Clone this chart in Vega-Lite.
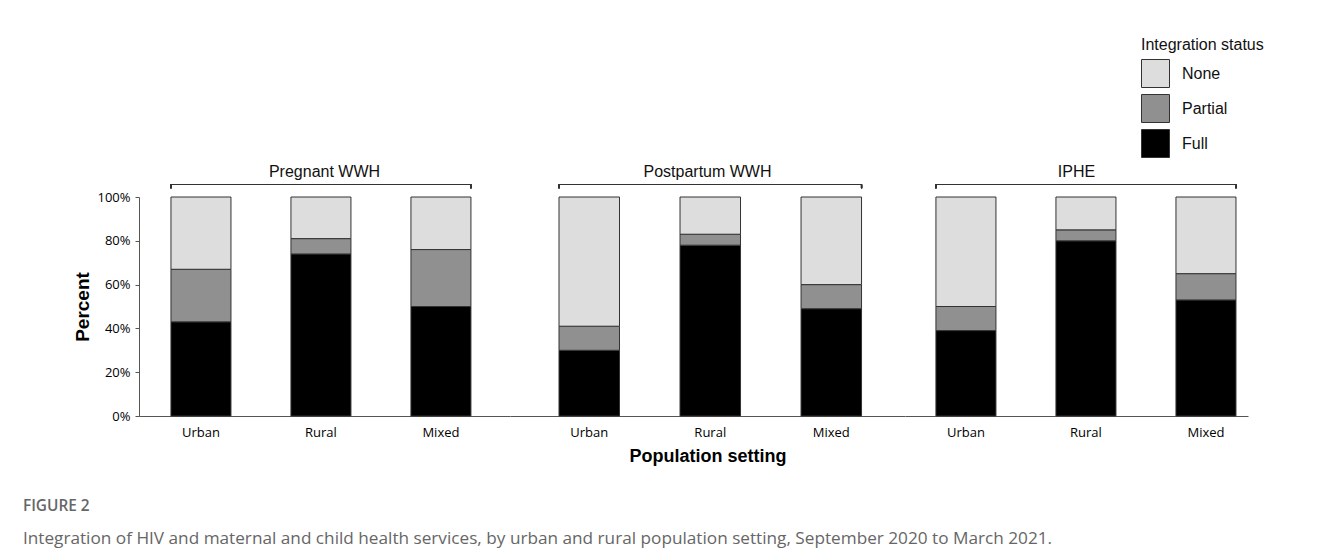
{
  "$schema": "https://vega.github.io/schema/vega-lite/v6.json",
  "padding": {"left": 22, "top": 37, "right": 5, "bottom": 5},
  "data": {"values": [
    {"group": "Pregnant WWH", "setting": "Urban", "status": "Full", "pct": 43},
    {"group": "Pregnant WWH", "setting": "Urban", "status": "Partial", "pct": 24},
    {"group": "Pregnant WWH", "setting": "Urban", "status": "None", "pct": 33},
    {"group": "Pregnant WWH", "setting": "Rural", "status": "Full", "pct": 74},
    {"group": "Pregnant WWH", "setting": "Rural", "status": "Partial", "pct": 7},
    {"group": "Pregnant WWH", "setting": "Rural", "status": "None", "pct": 19},
    {"group": "Pregnant WWH", "setting": "Mixed", "status": "Full", "pct": 50},
    {"group": "Pregnant WWH", "setting": "Mixed", "status": "Partial", "pct": 26},
    {"group": "Pregnant WWH", "setting": "Mixed", "status": "None", "pct": 24},
    {"group": "Postpartum WWH", "setting": "Urban", "status": "Full", "pct": 30},
    {"group": "Postpartum WWH", "setting": "Urban", "status": "Partial", "pct": 11},
    {"group": "Postpartum WWH", "setting": "Urban", "status": "None", "pct": 59},
    {"group": "Postpartum WWH", "setting": "Rural", "status": "Full", "pct": 78},
    {"group": "Postpartum WWH", "setting": "Rural", "status": "Partial", "pct": 5},
    {"group": "Postpartum WWH", "setting": "Rural", "status": "None", "pct": 17},
    {"group": "Postpartum WWH", "setting": "Mixed", "status": "Full", "pct": 49},
    {"group": "Postpartum WWH", "setting": "Mixed", "status": "Partial", "pct": 11},
    {"group": "Postpartum WWH", "setting": "Mixed", "status": "None", "pct": 40},
    {"group": "IPHE", "setting": "Urban", "status": "Full", "pct": 39},
    {"group": "IPHE", "setting": "Urban", "status": "Partial", "pct": 11},
    {"group": "IPHE", "setting": "Urban", "status": "None", "pct": 50},
    {"group": "IPHE", "setting": "Rural", "status": "Full", "pct": 80},
    {"group": "IPHE", "setting": "Rural", "status": "Partial", "pct": 5},
    {"group": "IPHE", "setting": "Rural", "status": "None", "pct": 15},
    {"group": "IPHE", "setting": "Mixed", "status": "Full", "pct": 53},
    {"group": "IPHE", "setting": "Mixed", "status": "Partial", "pct": 12},
    {"group": "IPHE", "setting": "Mixed", "status": "None", "pct": 35}
  ]},
  "transform": [{"calculate": "indexof(['Full', 'Partial', 'None'], datum.status)", "as": "stackOrder"}],
  "title": {
    "text": "FIGURE 2",
    "subtitle": "Integration of HIV and maternal and child health services, by urban and rural population setting, September 2020 to March 2021.",
    "orient": "bottom",
    "anchor": "start",
    "dx": -51,
    "offset": 34,
    "font": "Open Sans",
    "fontSize": 15.4,
    "fontWeight": 600,
    "color": "#666",
    "subtitleFont": "Open Sans",
    "subtitleFontSize": 17.2,
    "subtitleColor": "#666",
    "subtitlePadding": 16
  },
  "spacing": 0,
  "hconcat": [
    {
      "width": 371,
      "height": 219,
      "title": {"text": "Pregnant WWH"},
      "transform": [{"filter": "datum.group === 'Pregnant WWH'"}],
      "layer": [
        {
          "mark": {"type": "bar", "stroke": "#333", "strokeWidth": 1},
          "encoding": {
            "x": {"field": "setting", "type": "nominal", "sort": ["Urban", "Rural", "Mixed"],
                  "scale": {"paddingInner": 0.5, "paddingOuter": 0.296, "align": 0.45},
                  "axis": {"title": null}},
            "y": {"field": "pct", "type": "quantitative", "stack": "zero",
                  "scale": {"domain": [0, 100], "nice": false},
                  "axis": {"title": "Percent", "values": [0, 20, 40, 60, 80, 100], "labelExpr": "datum.value + '%'"}},
            "order": {"field": "stackOrder", "type": "quantitative", "sort": "ascending"},
            "color": {"field": "status", "type": "nominal", "sort": ["None", "Partial", "Full"],
                      "scale": {"domain": ["None", "Partial", "Full"], "range": ["#dddddd", "#909090", "#000000"]},
                      "legend": {"title": "Integration status", "orient": "none", "legendX": 1002, "legendY": -160, "values": ["None", "Partial", "Full"]}}
          }
        },
        {
          "mark": {"type": "rule", "stroke": "#333", "strokeWidth": 1.2},
          "encoding": {
            "x": {"datum": "Urban", "type": "nominal", "bandPosition": 0},
            "x2": {"datum": "Mixed", "bandPosition": 1},
            "y": {"datum": 105.7, "type": "quantitative"}
          }
        },
        {
          "mark": {"type": "rule", "stroke": "#333", "strokeWidth": 1.2},
          "encoding": {
            "x": {"datum": "Urban", "type": "nominal", "bandPosition": 0},
            "y": {"datum": 104, "type": "quantitative"},
            "y2": {"datum": 105.7}
          }
        },
        {
          "mark": {"type": "rule", "stroke": "#333", "strokeWidth": 1.2},
          "encoding": {
            "x": {"datum": "Mixed", "type": "nominal", "bandPosition": 1},
            "y": {"datum": 104, "type": "quantitative"},
            "y2": {"datum": 105.7}
          }
        }
      ]
    },
    {
      "width": 395,
      "height": 219,
      "title": {"text": "Postpartum WWH"},
      "transform": [{"filter": "datum.group === 'Postpartum WWH'"}],
      "layer": [
        {
          "mark": {"type": "bar", "stroke": "#333", "strokeWidth": 1},
          "encoding": {
            "x": {"field": "setting", "type": "nominal", "sort": ["Urban", "Rural", "Mixed"],
                  "scale": {"paddingInner": 0.5, "paddingOuter": 0.382, "align": 0.53},
                  "axis": {"title": "Population setting"}},
            "y": {"field": "pct", "type": "quantitative", "stack": "zero",
                  "scale": {"domain": [0, 100], "nice": false}, "axis": null},
            "order": {"field": "stackOrder", "type": "quantitative", "sort": "ascending"},
            "color": {"field": "status", "type": "nominal", "sort": ["None", "Partial", "Full"],
                      "scale": {"domain": ["None", "Partial", "Full"], "range": ["#dddddd", "#909090", "#000000"]}}
          }
        },
        {
          "mark": {"type": "rule", "stroke": "#333", "strokeWidth": 1.2},
          "encoding": {
            "x": {"datum": "Urban", "type": "nominal", "bandPosition": 0},
            "x2": {"datum": "Mixed", "bandPosition": 1},
            "y": {"datum": 105.7, "type": "quantitative"}
          }
        },
        {
          "mark": {"type": "rule", "stroke": "#333", "strokeWidth": 1.2},
          "encoding": {
            "x": {"datum": "Urban", "type": "nominal", "bandPosition": 0},
            "y": {"datum": 104, "type": "quantitative"},
            "y2": {"datum": 105.7}
          }
        },
        {
          "mark": {"type": "rule", "stroke": "#333", "strokeWidth": 1.2},
          "encoding": {
            "x": {"datum": "Mixed", "type": "nominal", "bandPosition": 1},
            "y": {"datum": 104, "type": "quantitative"},
            "y2": {"datum": 105.7}
          }
        }
      ]
    },
    {
      "width": 343,
      "height": 219,
      "title": {"text": "IPHE"},
      "transform": [{"filter": "datum.group === 'IPHE'"}],
      "layer": [
        {
          "mark": {"type": "bar", "stroke": "#333", "strokeWidth": 1},
          "encoding": {
            "x": {"field": "setting", "type": "nominal", "sort": ["Urban", "Rural", "Mixed"],
                  "scale": {"paddingInner": 0.5, "paddingOuter": 0.179, "align": 0.72},
                  "axis": {"title": null}},
            "y": {"field": "pct", "type": "quantitative", "stack": "zero",
                  "scale": {"domain": [0, 100], "nice": false}, "axis": null},
            "order": {"field": "stackOrder", "type": "quantitative", "sort": "ascending"},
            "color": {"field": "status", "type": "nominal", "sort": ["None", "Partial", "Full"],
                      "scale": {"domain": ["None", "Partial", "Full"], "range": ["#dddddd", "#909090", "#000000"]}}
          }
        },
        {
          "mark": {"type": "rule", "stroke": "#333", "strokeWidth": 1.2},
          "encoding": {
            "x": {"datum": "Urban", "type": "nominal", "bandPosition": 0},
            "x2": {"datum": "Mixed", "bandPosition": 1},
            "y": {"datum": 105.7, "type": "quantitative"}
          }
        },
        {
          "mark": {"type": "rule", "stroke": "#333", "strokeWidth": 1.2},
          "encoding": {
            "x": {"datum": "Urban", "type": "nominal", "bandPosition": 0},
            "y": {"datum": 104, "type": "quantitative"},
            "y2": {"datum": 105.7}
          }
        },
        {
          "mark": {"type": "rule", "stroke": "#333", "strokeWidth": 1.2},
          "encoding": {
            "x": {"datum": "Mixed", "type": "nominal", "bandPosition": 1},
            "y": {"datum": 104, "type": "quantitative"},
            "y2": {"datum": 105.7}
          }
        }
      ]
    }
  ],
  "config": {
    "view": {"stroke": null},
    "axisX": {"ticks": false, "domainColor": "#555", "labelAngle": 0, "labelFont": "Open Sans", "labelFontSize": 13, "labelColor": "#000", "labelPadding": 10,
              "titleFont": "Liberation Sans", "titleFontSize": 18, "titleFontWeight": "bold", "titleColor": "#000", "titlePadding": 8},
    "axisY": {"grid": false, "tickSize": 4, "tickColor": "#555", "domainColor": "#555", "labelFont": "Open Sans", "labelFontSize": 13, "labelColor": "#000", "labelPadding": 5,
              "titleFont": "Liberation Sans", "titleFontSize": 19, "titleFontWeight": "bold", "titleColor": "#000", "titlePadding": 4},
    "title": {"font": "Liberation Sans", "fontSize": 16, "fontWeight": "normal", "color": "#111", "offset": 4},
    "legend": {"titleFont": "Liberation Sans", "titleFontSize": 16, "titleFontWeight": "normal", "titleColor": "#111", "titlePadding": 6,
               "labelFont": "Liberation Sans", "labelFontSize": 16, "labelColor": "#111", "labelOffset": 12,
               "symbolType": "square", "symbolSize": 784, "symbolStrokeColor": "#333", "symbolStrokeWidth": 1, "rowPadding": 2, "symbolOpacity": 1}
  }
}
